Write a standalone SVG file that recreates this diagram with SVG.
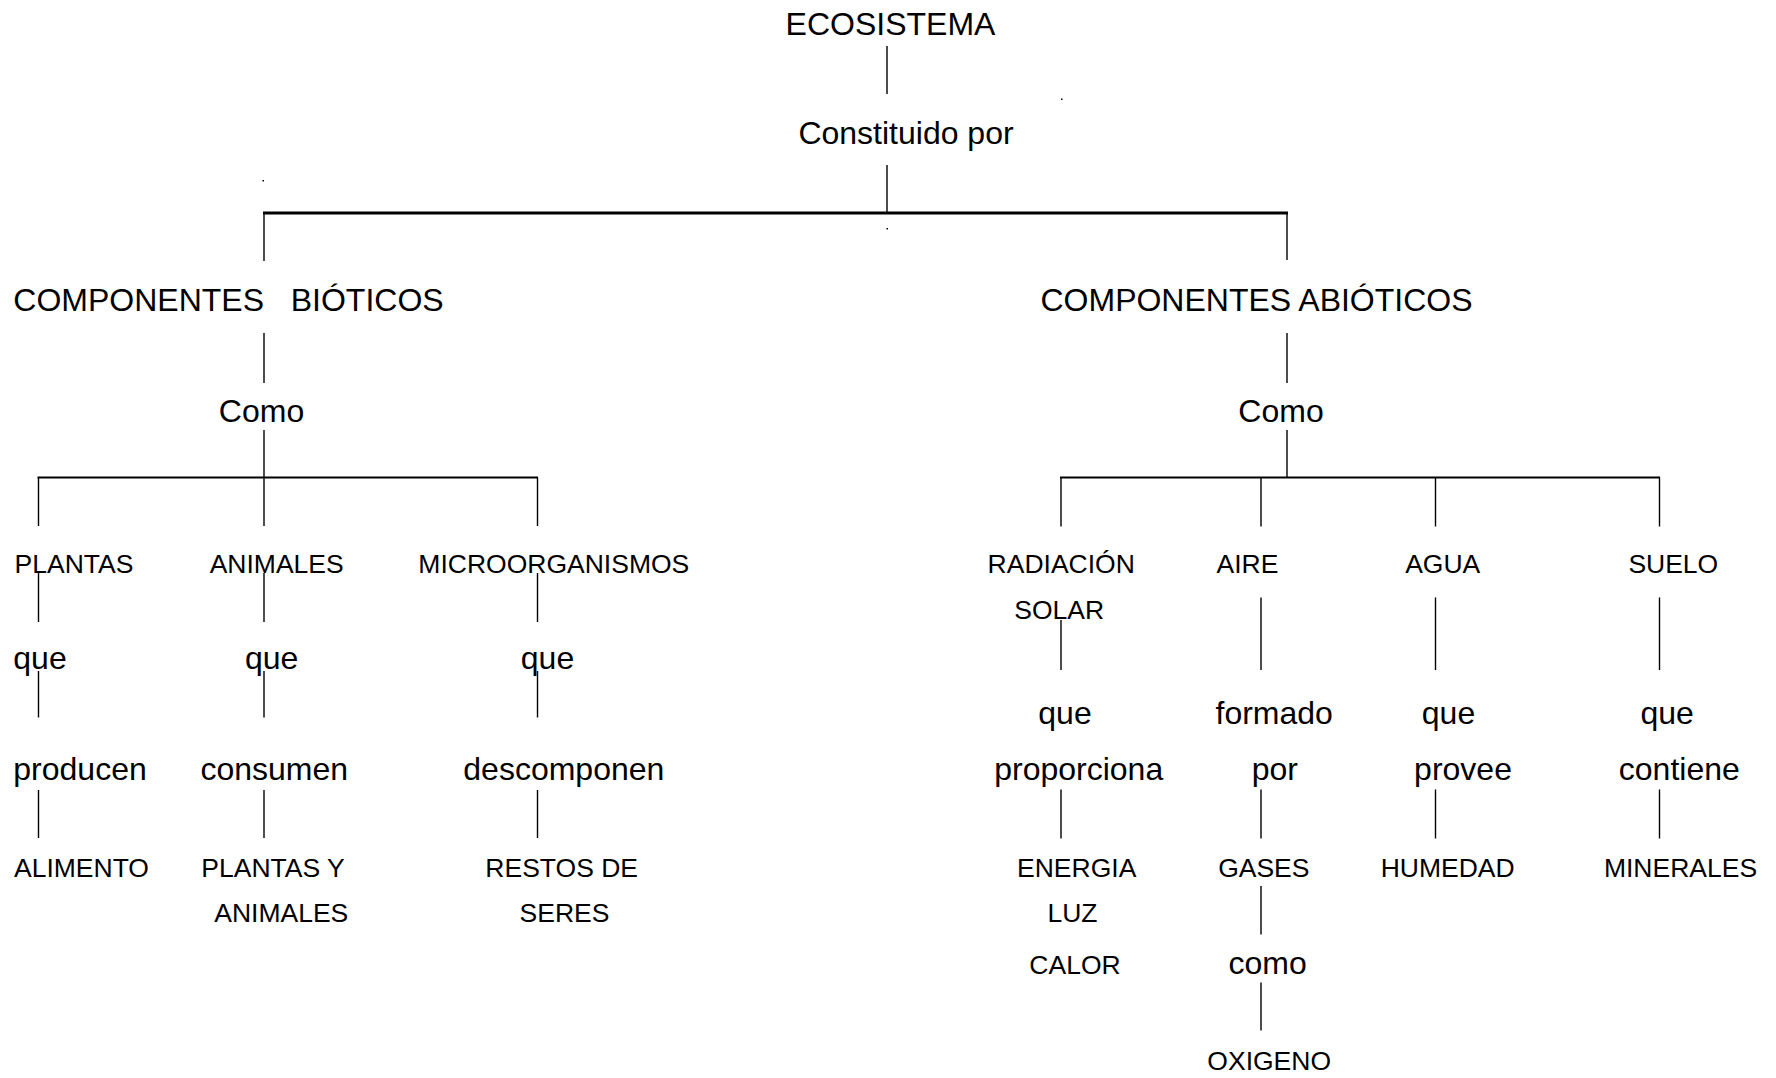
<svg xmlns="http://www.w3.org/2000/svg" width="1776" height="1078" viewBox="0 0 1776 1078">
<style>
text{font-family:"Liberation Sans",Arial,sans-serif;fill:#000;text-anchor:middle;white-space:pre}
.b{font-size:32px}
.s{font-size:26.5px}
.c line{stroke:#000;stroke-width:1.4}
.c line.bar{stroke-width:2.2}
.c line.top{stroke-width:2.8}
</style>
<rect width="1776" height="1078" fill="#fff"/>
<g id="connectors" class="c">
<line x1="887" y1="46" x2="887" y2="94"/>
<line x1="887" y1="165" x2="887" y2="213"/>
<line class="top" x1="263" y1="213" x2="1288" y2="213"/>
<line x1="264" y1="213" x2="264" y2="261"/>
<line x1="1287" y1="213" x2="1287" y2="260"/>
<line x1="264" y1="333" x2="264" y2="383"/>
<line x1="1287" y1="333" x2="1287" y2="383"/>
<line x1="264" y1="430" x2="264" y2="526"/>
<line class="bar" x1="37.5" y1="477.5" x2="538" y2="477.5"/>
<line x1="38.5" y1="477.5" x2="38.5" y2="526"/>
<line x1="537.5" y1="477.5" x2="537.5" y2="526"/>
<line x1="1287" y1="430" x2="1287" y2="477.5"/>
<line class="bar" x1="1060" y1="477.5" x2="1660" y2="477.5"/>
<line x1="1061" y1="477.5" x2="1061" y2="526.5"/>
<line x1="1261" y1="477.5" x2="1261" y2="526.5"/>
<line x1="1435.5" y1="477.5" x2="1435.5" y2="526.5"/>
<line x1="1659.5" y1="477.5" x2="1659.5" y2="526.5"/>
<line x1="38.5" y1="573" x2="38.5" y2="622"/>
<line x1="264" y1="573" x2="264" y2="622"/>
<line x1="537.5" y1="573" x2="537.5" y2="622"/>
<line x1="38.5" y1="671" x2="38.5" y2="717.5"/>
<line x1="264" y1="671" x2="264" y2="717.5"/>
<line x1="537.5" y1="671" x2="537.5" y2="717.5"/>
<line x1="38.5" y1="790" x2="38.5" y2="838"/>
<line x1="264" y1="790" x2="264" y2="838"/>
<line x1="537.5" y1="790" x2="537.5" y2="838"/>
<line x1="1061" y1="620" x2="1061" y2="670"/>
<line x1="1261" y1="597.5" x2="1261" y2="670"/>
<line x1="1435.5" y1="597.5" x2="1435.5" y2="670"/>
<line x1="1659.5" y1="597.5" x2="1659.5" y2="670"/>
<line x1="1061" y1="789.5" x2="1061" y2="838.5"/>
<line x1="1261" y1="789.5" x2="1261" y2="838.5"/>
<line x1="1435.5" y1="789.5" x2="1435.5" y2="838.5"/>
<line x1="1659.5" y1="789.5" x2="1659.5" y2="838.5"/>
<line x1="1261" y1="886" x2="1261" y2="934.5"/>
<line x1="1261" y1="982.5" x2="1261" y2="1030.5"/>
</g>
<g id="dots">
<rect x="1061" y="98.5" width="1.5" height="1.5" fill="#000"/>
<rect x="262.5" y="180" width="1.5" height="1.5" fill="#000"/>
<rect x="886.5" y="228" width="1.5" height="1.5" fill="#000"/>
</g>
<g id="n-ecosistema"><text class="b" x="890.5" y="34.5">ECOSISTEMA</text></g>
<g id="n-constituido"><text class="b" x="906" y="143.5">Constituido por</text></g>
<g id="n-bioticos"><text class="b" x="228.5" y="311">COMPONENTES   BIÓTICOS</text></g>
<g id="n-abioticos"><text class="b" x="1256.5" y="311">COMPONENTES ABIÓTICOS</text></g>
<g id="n-como-b"><text class="b" x="261.5" y="421.5">Como</text></g>
<g id="n-como-a"><text class="b" x="1281" y="421.5">Como</text></g>
<g id="n-plantas"><text class="s" x="74" y="573">PLANTAS</text></g>
<g id="n-animales"><text class="s" x="276.7" y="573">ANIMALES</text></g>
<g id="n-micro"><text class="s" x="553.8" y="573">MICROORGANISMOS</text></g>
<g id="n-que-1"><text class="b" x="40" y="669">que</text></g>
<g id="n-que-2"><text class="b" x="271.7" y="669">que</text></g>
<g id="n-que-3"><text class="b" x="547.5" y="669">que</text></g>
<g id="n-producen"><text class="b" x="80" y="780">producen</text></g>
<g id="n-consumen"><text class="b" x="274.2" y="780">consumen</text></g>
<g id="n-descomponen"><text class="b" x="563.8" y="780">descomponen</text></g>
<g id="n-alimento"><text class="s" x="81.5" y="876.5">ALIMENTO</text></g>
<g id="n-plantas-animales"><text class="s" x="273" y="876.5">PLANTAS Y</text><text class="s" x="281.3" y="922">ANIMALES</text></g>
<g id="n-restos"><text class="s" x="561.7" y="876.5">RESTOS DE</text><text class="s" x="564.5" y="922">SERES</text></g>
<g id="n-radiacion"><text class="s" x="1061.2" y="573.3">RADIACIÓN</text><text class="s" x="1059.2" y="619.3">SOLAR</text></g>
<g id="n-aire"><text class="s" x="1247.5" y="573.3">AIRE</text></g>
<g id="n-agua"><text class="s" x="1442.7" y="573.3">AGUA</text></g>
<g id="n-suelo"><text class="s" x="1673.3" y="573.3">SUELO</text></g>
<g id="n-que-proporciona"><text class="b" x="1065" y="724">que</text><text class="b" x="1078.7" y="780">proporciona</text></g>
<g id="n-formado-por"><text class="b" x="1274.2" y="724">formado</text><text class="b" x="1274.8" y="780">por</text></g>
<g id="n-que-provee"><text class="b" x="1448.5" y="724">que</text><text class="b" x="1463" y="780">provee</text></g>
<g id="n-que-contiene"><text class="b" x="1667.2" y="724">que</text><text class="b" x="1679.3" y="780">contiene</text></g>
<g id="n-energia"><text class="s" x="1076.7" y="877.3">ENERGIA</text><text class="s" x="1072.5" y="922.3">LUZ</text><text class="s" x="1075" y="974">CALOR</text></g>
<g id="n-gases"><text class="s" x="1263.8" y="877.3">GASES</text></g>
<g id="n-humedad"><text class="s" x="1447.7" y="877.3">HUMEDAD</text></g>
<g id="n-minerales"><text class="s" x="1680.5" y="877.3">MINERALES</text></g>
<g id="n-como-gases"><text class="b" x="1267.7" y="974">como</text></g>
<g id="n-oxigeno"><text class="s" x="1269.2" y="1070">OXIGENO</text></g>
</svg>
